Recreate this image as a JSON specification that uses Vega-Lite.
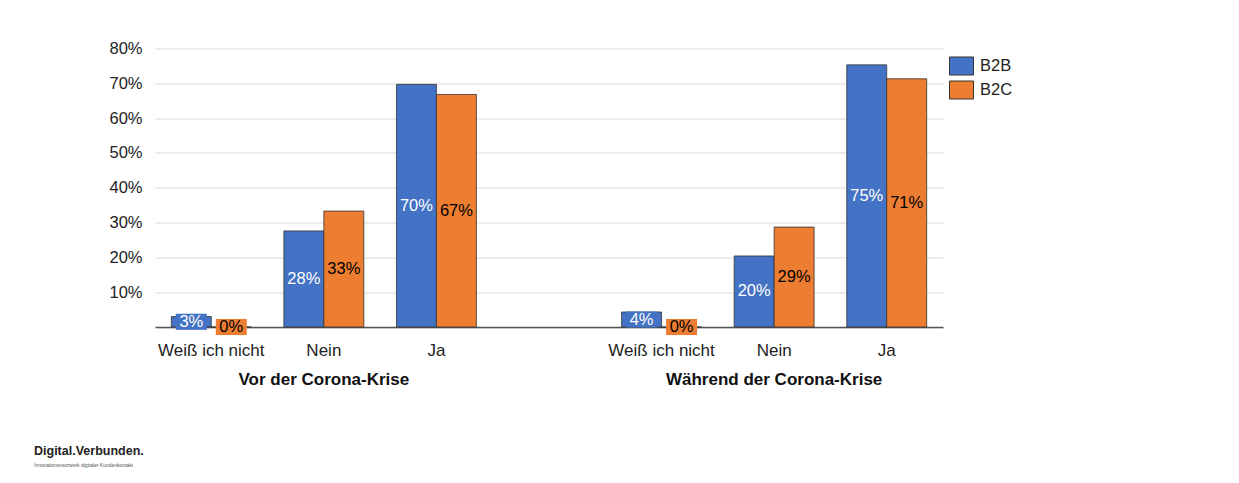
{
  "$schema": "https://vega.github.io/schema/vega-lite/v6.json",
  "autosize": {"type": "none"},
  "width": 788,
  "height": 278.5,
  "padding": {"left": 155, "top": 48.5, "right": 296, "bottom": 156},
  "background": "white",
  "config": {
    "font": "Liberation Sans",
    "view": {"stroke": null},
    "axis": {"labelFont": "Liberation Sans", "labelColor": "#222", "labelFontSize": 16.5},
    "axisY": {"tickCount": 20}
  },
  "title": {
    "text": "Digital.Verbunden.",
    "subtitle": "Innovationsnetzwerk digitaler Kundenkontakt",
    "orient": "bottom",
    "anchor": "start",
    "frame": "group",
    "dx": -121,
    "offset": 58,
    "fontSize": 12.5,
    "fontWeight": "bold",
    "color": "#222",
    "subtitleFontSize": 5,
    "subtitleColor": "#555",
    "subtitlePadding": 5
  },
  "data": {
    "values": [
      {"period": "Vor der Corona-Krise", "answer": "Weiß ich nicht", "series": "B2B", "value": 0.03},
      {"period": "Vor der Corona-Krise", "answer": "Weiß ich nicht", "series": "B2C", "value": 0.0},
      {"period": "Vor der Corona-Krise", "answer": "Nein", "series": "B2B", "value": 0.276},
      {"period": "Vor der Corona-Krise", "answer": "Nein", "series": "B2C", "value": 0.333},
      {"period": "Vor der Corona-Krise", "answer": "Ja", "series": "B2B", "value": 0.697},
      {"period": "Vor der Corona-Krise", "answer": "Ja", "series": "B2C", "value": 0.668},
      {"period": "Während der Corona-Krise", "answer": "Weiß ich nicht", "series": "B2B", "value": 0.043},
      {"period": "Während der Corona-Krise", "answer": "Weiß ich nicht", "series": "B2C", "value": 0.0},
      {"period": "Während der Corona-Krise", "answer": "Nein", "series": "B2B", "value": 0.204},
      {"period": "Während der Corona-Krise", "answer": "Nein", "series": "B2C", "value": 0.287},
      {"period": "Während der Corona-Krise", "answer": "Ja", "series": "B2B", "value": 0.753},
      {"period": "Während der Corona-Krise", "answer": "Ja", "series": "B2C", "value": 0.713}
    ]
  },
  "transform": [
    {"calculate": "datum.period + '|' + datum.answer", "as": "slot"},
    {"calculate": "datum.value / 2", "as": "mid"}
  ],
  "resolve": {"axis": {"x": "independent"}},
  "layer": [
    {
      "mark": {"type": "bar", "stroke": "#333", "strokeWidth": 0.8},
      "encoding": {
        "x": {
          "field": "slot",
          "type": "nominal",
          "scale": {
            "domain": ["Vor der Corona-Krise|Weiß ich nicht", "Vor der Corona-Krise|Nein", "Vor der Corona-Krise|Ja", " ", "Während der Corona-Krise|Weiß ich nicht", "Während der Corona-Krise|Nein", "Während der Corona-Krise|Ja"],
            "paddingInner": 0.29,
            "paddingOuter": 0.145
          },
          "axis": {
            "orient": "bottom",
            "title": null,
            "ticks": false,
            "labelAngle": 0,
            "labelPadding": 15,
            "labelFontSize": 17,
            "labelOverlap": false,
            "labelLimit": 300,
            "domainColor": "#555",
            "domainWidth": 1.3,
            "labelExpr": "indexof(datum.value, '|') >= 0 ? split(datum.value, '|')[1] : ''"
          }
        },
        "xOffset": {"field": "series", "type": "nominal", "scale": {"domain": ["B2B", "B2C"]}},
        "y": {
          "field": "value",
          "type": "quantitative",
          "scale": {"domain": [0, 0.8], "nice": false},
          "axis": {
            "title": null,
            "values": [0, 0.1, 0.2, 0.3, 0.4, 0.5, 0.6, 0.7, 0.8],
            "tickCount": 20,
            "labelExpr": "datum.value == 0 ? '' : format(datum.value, '.0%')",
            "labelOverlap": false,
            "ticks": false,
            "domain": false,
            "labelPadding": 13,
            "gridColor": "#d9d9d9",
            "gridWidth": 1
          }
        },
        "color": {
          "field": "series",
          "type": "nominal",
          "scale": {"domain": ["B2B", "B2C"], "range": ["#4472C4", "#ED7D31"]},
          "legend": {
            "title": null,
            "orient": "right",
            "offset": 1,
            "padding": 5,
            "symbolType": "M-1,-0.75H1V0.75H-1Z",
            "symbolSize": 576,
            "symbolStrokeColor": "#333",
            "symbolStrokeWidth": 1,
            "labelFontSize": 16.5,
            "labelFont": "Liberation Sans",
            "labelColor": "#222",
            "labelOffset": 6,
            "rowPadding": 0
          }
        }
      }
    },
    {
      "transform": [{"filter": "datum.value < 0.05"}],
      "mark": {"type": "point", "filled": true, "opacity": 1, "shape": "M-1,-0.52H1V0.52H-1Z", "size": 961},
      "encoding": {
        "x": {"field": "slot", "type": "nominal", "axis": null},
        "xOffset": {"field": "series", "type": "nominal"},
        "y": {
          "field": "mid",
          "type": "quantitative",
          "axis": {
            "title": null,
            "values": [0, 0.1, 0.2, 0.3, 0.4, 0.5, 0.6, 0.7, 0.8],
            "tickCount": 20,
            "labelExpr": "datum.value == 0 ? '' : format(datum.value, '.0%')",
            "labelOverlap": false,
            "ticks": false,
            "domain": false,
            "labelPadding": 13,
            "gridColor": "#d9d9d9",
            "gridWidth": 1
          }
        },
        "color": {"field": "series", "type": "nominal"}
      }
    },
    {
      "mark": {"type": "text", "fontSize": 16.5, "font": "Liberation Sans", "baseline": "middle", "align": "center"},
      "encoding": {
        "x": {
          "field": "slot",
          "type": "nominal",
          "axis": {
            "orient": "bottom",
            "title": null,
            "ticks": false,
            "domain": false,
            "grid": false,
            "labelAngle": 0,
            "labelPadding": 44,
            "labelFontWeight": "bold",
            "labelFontSize": 17,
            "labelOverlap": false,
            "labelLimit": 400,
            "labelColor": "#111",
            "labelExpr": "indexof(datum.value, '|Nein') >= 0 ? split(datum.value, '|')[0] : ''"
          }
        },
        "xOffset": {"field": "series", "type": "nominal"},
        "y": {
          "field": "mid",
          "type": "quantitative",
          "axis": {
            "title": null,
            "values": [0, 0.1, 0.2, 0.3, 0.4, 0.5, 0.6, 0.7, 0.8],
            "tickCount": 20,
            "labelExpr": "datum.value == 0 ? '' : format(datum.value, '.0%')",
            "labelOverlap": false,
            "ticks": false,
            "domain": false,
            "labelPadding": 13,
            "gridColor": "#d9d9d9",
            "gridWidth": 1
          }
        },
        "text": {"field": "value", "type": "quantitative", "format": ".0%"},
        "color": {"condition": {"test": "datum.series == 'B2B'", "value": "white"}, "value": "black"}
      }
    }
  ]
}
